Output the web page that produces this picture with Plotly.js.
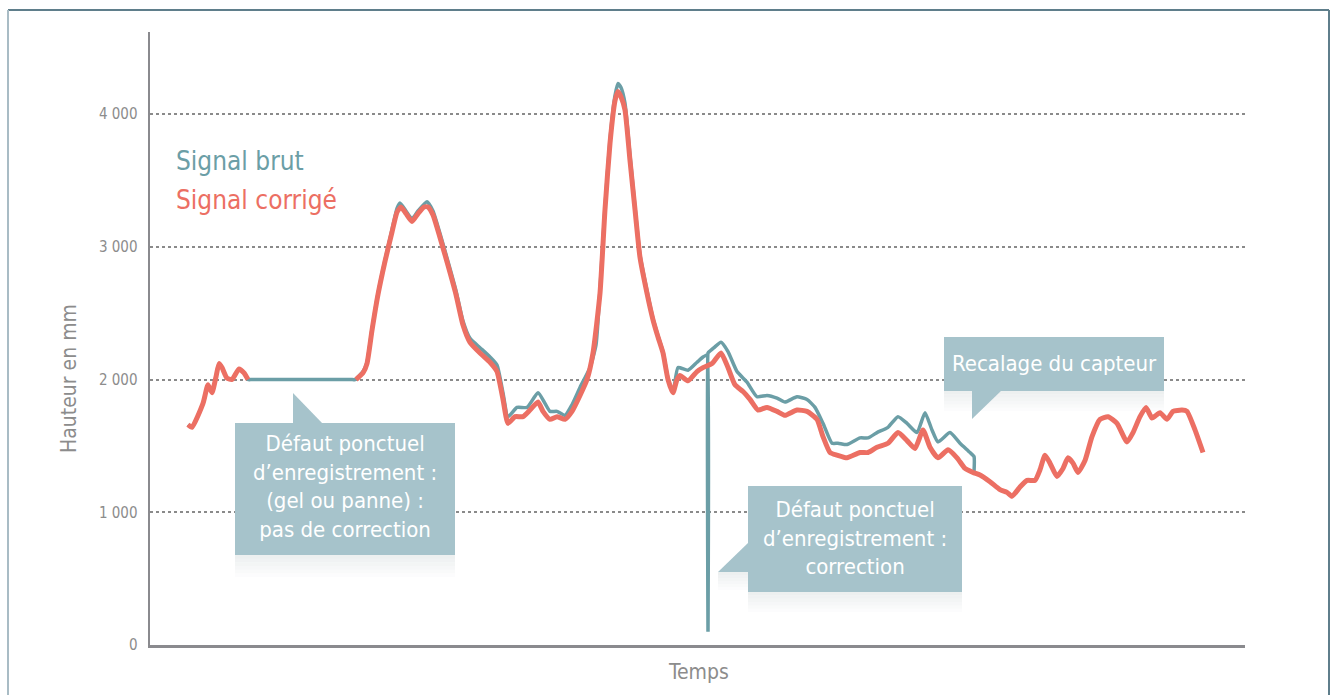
<!DOCTYPE html>
<html>
<head>
<meta charset="utf-8">
<script src="https://cdn.plot.ly/plotly-3.0.1.min.js"></script>
<style>
  html, body { margin: 0; padding: 0; background: #fff; }
  #chart { width: 1335px; height: 695px; }
</style>
</head>
<body>
<div id="chart"></div>
<script>
// ---- Data (time in arbitrary units, height in mm) ----
const tempsCorrige = [38,42,53,58,62,66,69,72,77,82,89,94,98,
  99,
  206,213,217,222,228,235,242,247,251,256,262,268,274,278,283,290,298,306,313,320,330,340,347,353,358,365,373,380,388,393,400,407,415,422,430,437,443,450,455,460,465,468,471,475,480,485,490,497,503,508,513,518,523,527,530,538,547,553,562,571,578,585,593,600,608,617,627,635,647,657,667,673,680,687,697,710,718,727,738,748,757,765,773,780,788,798,807,815,823,830,840,850,857,862,870,877,885,890,895,900,907,913,918,923,928,935,942,950,958,967,977,983,990,996,1002,1010,1017,1023,1032,1037,1045,1053];
const signalCorrige = [1660,1640,1820,1960,1900,2020,2120,2090,2010,2000,2080,2050,2000,
  null,
  2000,2050,2120,2370,2640,2890,3110,3260,3300,3250,3190,3250,3300,3300,3240,3070,2860,2640,2410,2280,2200,2130,2060,1850,1670,1720,1720,1770,1830,1760,1700,1720,1700,1760,1880,2000,2200,2650,3280,3780,4100,4170,4130,4030,3650,3280,2920,2650,2450,2320,2200,2000,1900,2000,2030,1990,2060,2090,2120,2200,2090,1960,1910,1850,1770,1790,1760,1730,1770,1760,1700,1570,1450,1430,1410,1450,1450,1490,1520,1600,1540,1480,1620,1490,1410,1470,1410,1330,1300,1280,1230,1170,1150,1120,1190,1240,1240,1320,1430,1370,1270,1330,1410,1370,1300,1390,1570,1700,1720,1670,1530,1600,1720,1790,1710,1750,1700,1760,1770,1760,1620,1450];

const tempsBrut = [38,42,53,58,62,66,69,72,77,82,89,94,98,
  102,201,205,213,217,222,228,235,242,247,250,256,262,268,277,283,290,298,306,313,320,330,340,347,353,358,367,377,388,395,400,407,415,422,430,440,446,450,455,460,465,468,471,475,480,485,490,497,503,508,513,518,523,528,538,547,553,557.7,558,558,558,558.3,564,571,578,587,597,607,617,627,635,647,657,665,673,682,688,697,710,718,727,738,748,757,767,775,782,788,800,810,820,824,824];
const signalBrut = [1660,1640,1820,1960,1900,2020,2120,2090,2010,2000,2080,2050,2000,
  2000,2000,2000,2060,2130,2380,2650,2900,3130,3290,3330,3270,3210,3270,3340,3270,3100,2890,2670,2440,2310,2240,2170,2110,1900,1720,1790,1790,1900,1820,1760,1760,1730,1810,1940,2090,2260,2680,3300,3810,4140,4230,4200,4080,3690,3300,2940,2670,2460,2330,2210,2010,1900,2090,2070,2130,2170,2188,2190,100,2200,2203,2240,2280,2210,2060,1980,1870,1880,1860,1830,1870,1850,1790,1670,1520,1520,1510,1560,1560,1600,1640,1720,1670,1600,1750,1620,1530,1600,1520,1450,1420,1300];

const yTicks = [0,1000,2000,3000,4000];
const yTickLabels = ['0','1 000','2 000','3 000','4 000'];

const legendLabels = ['Signal brut','Signal corrigé'];
const noteLeft = 'Défaut ponctuel<br>d’enregistrement :<br>(gel ou panne) :<br>pas de correction';
const noteMid = 'Défaut ponctuel<br>d’enregistrement :<br>correction';
const noteRight = 'Recalage du capteur';

// ---- Styling ----
const TEAL = '#6b9ea6';
const RED = '#ec6f63';
const BOX = '#a6c3cb';
const FONT = '"Liberation Sans Narrow", "DejaVu Sans Condensed", "Roboto Condensed", "Open Sans", sans-serif';

// pixel helpers -> paper coordinates (plot area x:150..1245, y:32..645)
const L = 150, R = 1245, T = 32, B = 645;
const P = px => (px - L) / (R - L);
const Q = py => (B - py) / (B - T);

function rect(x0, y0, x1, y1, color, layer, opacity) {
  return {type: 'rect', xref: 'paper', yref: 'paper', x0: P(x0), x1: P(x1), y0: Q(y1), y1: Q(y0),
          fillcolor: color, line: {width: 0}, layer: layer || 'above', opacity: opacity == null ? 1 : opacity};
}
function tri(pts, color) {
  const d = pts.map((p, i) => (i ? 'L' : 'M') + P(p[0]) + ',' + Q(p[1])).join(' ') + ' Z';
  return {type: 'path', xref: 'paper', yref: 'paper', path: d, fillcolor: color, line: {width: 0}, layer: 'above'};
}
function shadow(x0, y0, x1, h) {
  const out = [];
  const n = 6;
  for (let i = 0; i < n; i++) {
    out.push(rect(x0, y0 + i * h / n, x1, y0 + (i + 1) * h / n, '#dfe3e4', 'below', 0.55 * (1 - i / n)));
  }
  return out;
}
function line(x0, y0, x1, y1, color, w) {
  return {type: 'line', xref: 'paper', yref: 'paper', x0: P(x0), y0: Q(y0), x1: P(x1), y1: Q(y1),
          line: {color: color, width: w}, layer: 'above'};
}

const shapes = [
  // frame
  line(8, 10, 1329, 10, '#5f7e8b', 2),
  line(8, 10, 8, 700, '#a9bcc5', 2),
  line(1329, 10, 1329, 700, '#5f7e8b', 2),
  // box 1
  ...shadow(235, 555, 455, 22),
  rect(235, 423, 455, 555, BOX),
  tri([[293, 393], [293, 424], [323, 424]], BOX),
  // box 2
  ...shadow(748, 592, 962, 20),
  ...shadow(718, 572, 748, 18),
  rect(748, 486, 962, 592, BOX),
  tri([[748, 543], [718, 572], [748, 572]], BOX),
  // box 3
  ...shadow(944, 391, 1164, 20),
  rect(944, 337, 1164, 391, BOX),
  tri([[972, 390], [1002, 390], [972, 419]], BOX)
];

const annText = (x, y, text, size, color, anchor) => ({
  xref: 'paper', yref: 'paper', x: P(x), y: Q(y), text: text, showarrow: false,
  xanchor: anchor || 'center', yanchor: 'middle', align: 'center',
  font: {family: FONT, size: size, color: color}
});

const annotations = [
  annText(345, 487, noteLeft, 22, '#ffffff'),
  annText(855, 538, noteMid, 22, '#ffffff'),
  annText(1054, 363, noteRight, 22, '#ffffff'),
  annText(174, 161, legendLabels[0], 26, TEAL, 'left'),
  annText(174, 200, legendLabels[1], 26, RED, 'left'),
  Object.assign(annText(69, 379, 'Hauteur en mm', 21, '#8c8c8c'), {textangle: -90}),
  annText(698, 672, 'Temps', 21, '#8c8c8c')
];

const traces = [
  {x: tempsBrut, y: signalBrut, type: 'scatter', mode: 'lines', name: legendLabels[0],
   line: {color: TEAL, width: 3.5, shape: 'spline', smoothing: 0.5}, hoverinfo: 'skip'},
  {x: tempsCorrige, y: signalCorrige, type: 'scatter', mode: 'lines', name: legendLabels[1],
   line: {color: RED, width: 5, shape: 'spline', smoothing: 0.5}, connectgaps: false, hoverinfo: 'skip'}
];

const layout = {
  width: 1335, height: 695,
  margin: {l: L, r: 1335 - R, t: T, b: 695 - B, pad: 0},
  paper_bgcolor: '#ffffff', plot_bgcolor: '#ffffff',
  showlegend: false,
  font: {family: FONT},
  xaxis: {range: [0, 1095], showgrid: false, zeroline: false, showticklabels: false, ticks: '',
          showline: true, linecolor: '#8a8a8e', linewidth: 2.5, fixedrange: true},
  yaxis: {range: [0, 4618], tickvals: yTicks, ticktext: yTickLabels, ticks: '', ticklabelstandoff: 7,
          showgrid: true, gridcolor: '#8a8a8a', gridwidth: 2, griddash: 'dot', zeroline: false,
          showline: true, linecolor: '#8a8a8e', linewidth: 2.5,
          tickfont: {family: FONT, size: 15, color: '#8c8c8c'}, fixedrange: true},
  shapes: shapes,
  annotations: annotations
};

Plotly.newPlot('chart', traces, layout, {displayModeBar: false, staticPlot: true});
</script>
</body>
</html>
